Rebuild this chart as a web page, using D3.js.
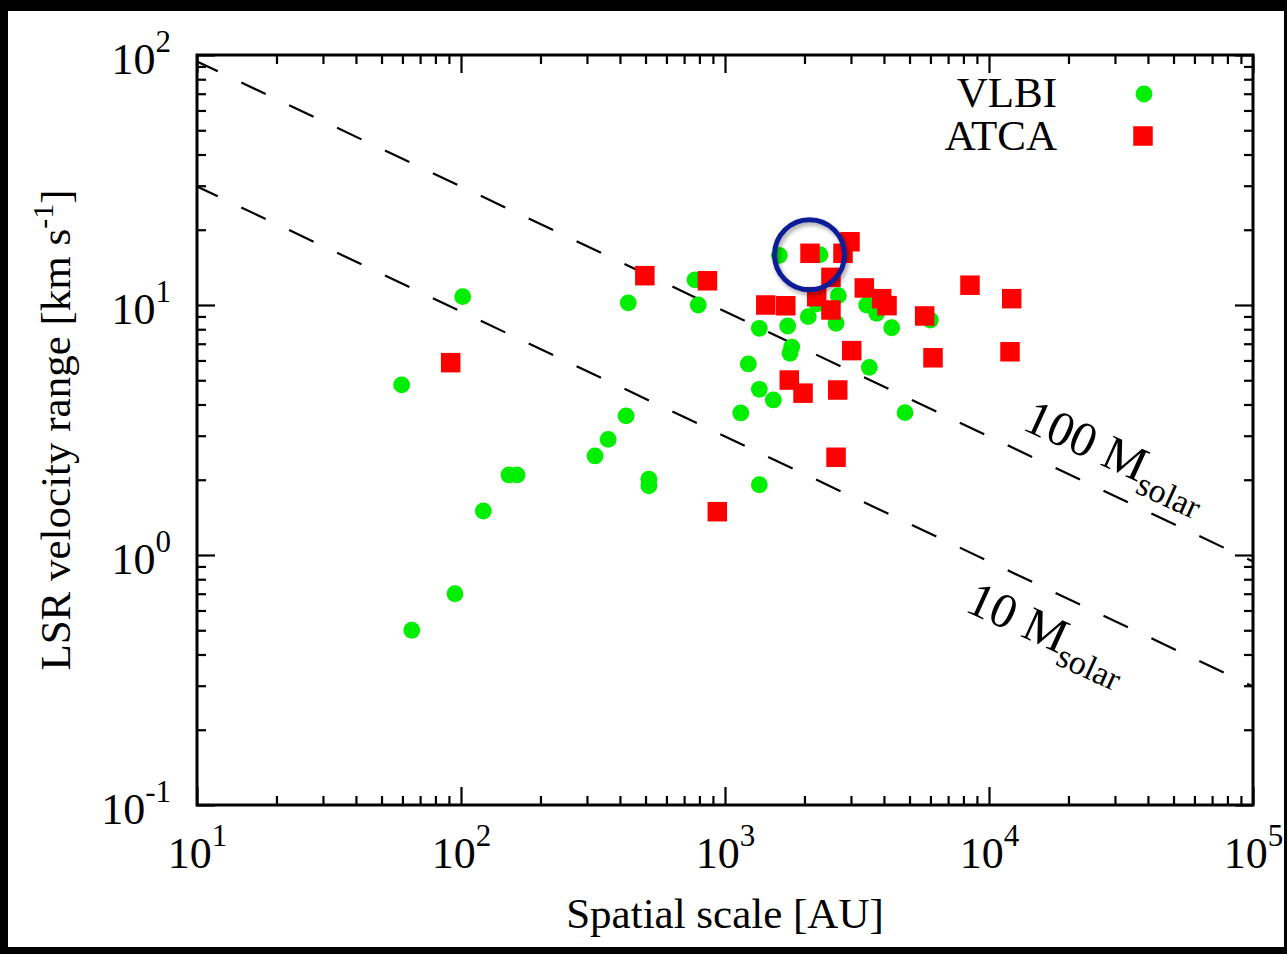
<!DOCTYPE html>
<html>
<head>
<meta charset="utf-8">
<script src="https://cdn.jsdelivr.net/npm/d3@7"></script>
<style>
  html, body { margin: 0; padding: 0; background: #000; }
  svg { display: block; }
  text { font-family: "Liberation Serif", "Times New Roman", Times, serif; fill: #000; }
</style>
</head>
<body>
<svg id="chart" width="1287" height="954"></svg>
<script>
// ---- data -------------------------------------------------------------
// VLBI maser spots: spatial scale [AU] and LSR velocity range [km/s]
const vlbiScale = [59.6, 65.1, 94.9, 101.5, 121.5, 152, 163, 322, 361, 422, 430, 515, 515,
                   770, 792, 1147, 1226, 1349, 1349, 1349, 1524, 1606, 1728, 1789, 1763,
                   2068, 2231, 2290, 2634, 2687, 3441, 3521, 3755, 4280, 4807, 5995];
const vlbiVel   = [4.79, 0.50, 0.70, 10.8, 1.50, 2.09, 2.09, 2.49, 2.90, 3.60, 10.2, 2.01, 1.89,
                   12.6, 10.0, 3.70, 5.81, 8.07, 4.60, 1.91, 4.17, 15.8, 8.24, 6.79, 6.41,
                   8.98, 10.1, 15.9, 8.45, 10.9, 10.0, 5.63, 9.27, 8.11, 3.71, 8.71];

// ATCA sources
const atcaScale = [91.4, 497, 858, 935, 1427, 1699, 1752, 1975, 2099, 2520, 2225, 2520, 2673,
                   2634, 2799, 2975, 3020, 3371, 3923, 4109, 5706, 6137, 8472, 12190, 12010];
const atcaVel   = [5.88, 13.1, 12.5, 1.49, 10.0, 9.93, 5.01, 4.44, 16.1, 12.9, 10.8, 9.55, 4.57,
                   2.46, 16.1, 17.9, 6.57, 11.7, 10.6, 9.94, 9.04, 6.15, 12.0, 10.6, 6.50];

// Keplerian reference lines (end points), enclosed mass in solar masses
const massLabels   = ["100", "10"];
const massLineR    = [10, 100000];
const massLineV100 = [94.2, 0.942];
const massLineV10  = [29.8, 0.298];

// axis ticks
const xMajor   = [10, 100, 1000, 10000, 100000];
const xTickExp = ["1", "2", "3", "4", "5"];
const yMajor   = [0.1, 1, 10, 100];
const yTickExp = ["-1", "0", "1", "2"];

// highlighted source
const highlight = { r: 2090, v: 15.9 };

// ---- layout -----------------------------------------------------------
const W = 1287, H = 954;
const L = 197, R = 1253, T = 55, B = 805;
const svg = d3.select("#chart");

svg.append("rect").attr("x", 8).attr("y", 11).attr("width", 1276).attr("height", 936).attr("fill", "#fff");

const x = d3.scaleLog().domain([10, 1e5]).range([L, R]);
const y = d3.scaleLog().domain([0.1, 100]).range([B, T]);

const defs = svg.append("defs");
defs.append("clipPath").attr("id", "plotClip")
  .append("rect").attr("x", L).attr("y", T).attr("width", R - L).attr("height", B - T);
const shadow = defs.append("filter").attr("id", "ringShadow")
  .attr("x", "-30%").attr("y", "-30%").attr("width", "160%").attr("height", "160%");
shadow.append("feDropShadow").attr("dx", 2).attr("dy", 3).attr("stdDeviation", 2.2)
  .attr("flood-color", "#000").attr("flood-opacity", 0.35);

function minorTicks(lo, hi) {
  const out = [];
  for (let e = lo; e < hi; e++) for (let k = 2; k <= 9; k++) out.push(k * Math.pow(10, e));
  return out;
}
const xMinor = minorTicks(1, 5);
const yMinor = minorTicks(-1, 2);

const MAJ = 18, MIN = 9, TICKW = 2.2;

function styleAxis(g) {
  g.select(".domain").remove();
  g.selectAll(".tick line").attr("stroke", "#000").attr("stroke-width", TICKW);
  g.attr("font-family", null).attr("font-size", null);
}

// bottom
const gxB = svg.append("g").attr("transform", `translate(0,${B})`)
  .call(d3.axisBottom(x).tickValues(xMajor).tickSizeInner(-MAJ).tickSizeOuter(0).tickFormat(""));
styleAxis(gxB);
svg.append("g").attr("transform", `translate(0,${B})`)
  .call(d3.axisBottom(x).tickValues(xMinor).tickSizeInner(-MIN).tickSizeOuter(0).tickFormat(""))
  .call(styleAxis);
gxB.selectAll(".tick text").each(function (d, i) {
  const t = d3.select(this).text(null)
    .attr("y", 63).attr("dy", null).attr("text-anchor", "middle").attr("font-size", 44);
  t.append("tspan").text("10");
  t.append("tspan").attr("dy", -22).attr("font-size", 31).text(xTickExp[i]);
});

// top
svg.append("g").attr("transform", `translate(0,${T})`)
  .call(d3.axisTop(x).tickValues(xMajor).tickSizeInner(-MAJ).tickSizeOuter(0).tickFormat(""))
  .call(styleAxis);
svg.append("g").attr("transform", `translate(0,${T})`)
  .call(d3.axisTop(x).tickValues(xMinor).tickSizeInner(-MIN).tickSizeOuter(0).tickFormat(""))
  .call(styleAxis);

// left
const gyL = svg.append("g").attr("transform", `translate(${L},0)`)
  .call(d3.axisLeft(y).tickValues(yMajor).tickSizeInner(-MAJ).tickSizeOuter(0).tickPadding(26).tickFormat(""));
styleAxis(gyL);
svg.append("g").attr("transform", `translate(${L},0)`)
  .call(d3.axisLeft(y).tickValues(yMinor).tickSizeInner(-MIN).tickSizeOuter(0).tickFormat(""))
  .call(styleAxis);
gyL.selectAll(".tick text").each(function (d, i) {
  const t = d3.select(this).text(null)
    .attr("x", -26).attr("dy", 18).attr("text-anchor", "end").attr("font-size", 44);
  t.append("tspan").text("10");
  t.append("tspan").attr("dy", -22).attr("font-size", 31).text(yTickExp[i]);
});

// right
svg.append("g").attr("transform", `translate(${R},0)`)
  .call(d3.axisRight(y).tickValues(yMajor).tickSizeInner(-MAJ).tickSizeOuter(0).tickFormat(""))
  .call(styleAxis);
svg.append("g").attr("transform", `translate(${R},0)`)
  .call(d3.axisRight(y).tickValues(yMinor).tickSizeInner(-MIN).tickSizeOuter(0).tickFormat(""))
  .call(styleAxis);

// frame
svg.append("rect").attr("x", L).attr("y", T).attr("width", R - L).attr("height", B - T)
  .attr("fill", "none").attr("stroke", "#000").attr("stroke-width", 3);

// axis titles
svg.append("text").attr("x", (L + R) / 2).attr("y", 928).attr("text-anchor", "middle")
  .attr("font-size", 43).text("Spatial scale [AU]");

const yt = svg.append("text").attr("transform", `translate(70,${(T + B) / 2}) rotate(-90)`)
  .attr("text-anchor", "middle").attr("font-size", 43);
yt.append("tspan").text("LSR velocity range [km s");
yt.append("tspan").attr("dy", -17).attr("font-size", 30).text("-1");
yt.append("tspan").attr("dy", 17).text("]");

// ---- reference lines --------------------------------------------------
const plot = svg.append("g").attr("clip-path", "url(#plotClip)");
const lineGen = d3.line().x(d => x(d[0])).y(d => y(d[1]));
[massLineV100, massLineV10].forEach(vals => {
  plot.append("path")
    .attr("d", lineGen(massLineR.map((r, i) => [r, vals[i]])))
    .attr("fill", "none").attr("stroke", "#000").attr("stroke-width", 2.2)
    .attr("stroke-dasharray", "27,26").attr("stroke-dashoffset", 4);
});

// line labels placed along the lines
const labelPos = [ { r: 13200, v: 3.2 }, { r: 8000, v: 0.6 } ];
const angle = 24.5;
massLabels.forEach((m, i) => {
  const t = svg.append("text")
    .attr("transform", `translate(${x(labelPos[i].r)},${y(labelPos[i].v)}) rotate(${angle})`)
    .attr("font-size", 49);
  t.append("tspan").text(m + " M");
  t.append("tspan").attr("dy", 11).attr("font-size", 34).text("solar");
});

// ---- markers ----------------------------------------------------------
const green = "#00ee00", red = "#ff0000";
const SQ = 19.5, RAD = 8.4;

plot.selectAll("circle.vlbi").data(vlbiScale.map((r, i) => [r, vlbiVel[i]]))
  .join("circle").attr("class", "vlbi")
  .attr("cx", d => x(d[0])).attr("cy", d => y(d[1])).attr("r", RAD).attr("fill", green);

plot.selectAll("rect.atca").data(atcaScale.map((r, i) => [r, atcaVel[i]]))
  .join("rect").attr("class", "atca")
  .attr("x", d => x(d[0]) - SQ / 2).attr("y", d => y(d[1]) - SQ / 2)
  .attr("width", SQ).attr("height", SQ).attr("fill", red);

// highlight ring
svg.append("circle").attr("cx", x(highlight.r)).attr("cy", y(highlight.v)).attr("r", 35)
  .attr("fill", "none").attr("stroke", "#0c1f97").attr("stroke-width", 5)
  .attr("filter", "url(#ringShadow)");

// ---- legend -----------------------------------------------------------
const legend = svg.append("g");
legend.append("text").attr("x", 1057).attr("y", 107).attr("text-anchor", "end")
  .attr("font-size", 43).text("VLBI");
legend.append("circle").attr("cx", 1144).attr("cy", 94).attr("r", RAD).attr("fill", green);
legend.append("text").attr("x", 1057).attr("y", 150).attr("text-anchor", "end")
  .attr("font-size", 43).text("ATCA");
legend.append("rect").attr("x", 1143 - SQ / 2).attr("y", 136 - SQ / 2)
  .attr("width", SQ).attr("height", SQ).attr("fill", red);
</script>
</body>
</html>
